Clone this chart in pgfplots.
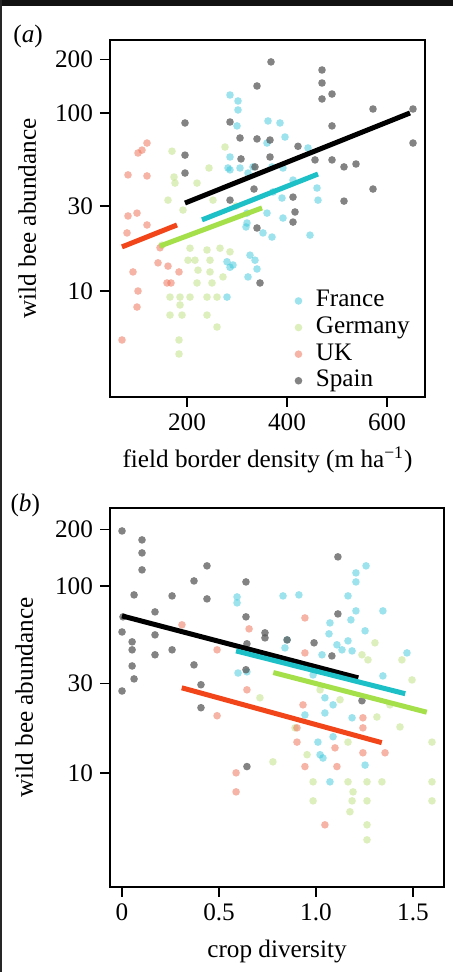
\documentclass[border=0pt]{standalone}
\usepackage{pgfplots}
\pgfplotsset{compat=1.18}
\usepackage{fontspec}
\setmainfont{Liberation Serif}

\definecolor{spainpt}{HTML}{5A5A5A}
\definecolor{francept}{HTML}{3CC8DC}
\definecolor{germanypt}{HTML}{B4DC6E}
\definecolor{ukpt}{HTML}{F0785F}
\definecolor{francefit}{HTML}{1EC0C8}
\definecolor{germanyfit}{HTML}{A5E04B}
\definecolor{ukfit}{HTML}{F2461A}

\newcommand{\lab}{\fontsize{12.6}{15}\selectfont}

\pgfplotsset{
  panel/.style={
    scale only axis,
    clip mode=individual,
    axis line style={line width=1pt},
    tick style={line width=0.7pt, black},
    tick align=outside,
    tick pos=left,
    major tick length=5pt,
    yminorticks=false,
    /pgf/number format/assume math mode=true,
    tick label style={font=\lab},
    label style={font=\lab},
    ytick={10,30,100,200},
    yticklabels={10,30,100,200},
  },
  pts/.style 2 args={only marks, mark=*, mark size=1.9pt, color=#1,
    mark options={fill=#1, fill opacity=#2, draw opacity=0}},
  regline/.style={forget plot, line width=2.5pt, color=#1},
}

% France, Germany, UK, Spain -- field border density (m/ha) vs abundance
\pgfplotstableread{
x y
286 126.2
302 116.8
302 104
300 84.6
362 90.2
386 87.9
396 73.3
360 67.8
286 56.6
286 47.9
306 49.1
322 46
332 49.8
370 49.8
392 49.1
412 42
372 36
390 33.3
460 37.9
462 32.4
320 27.4
360 27.4
392 25.7
352 21.2
370 20.1
446 20.6
320 24.1
442 63.6
326 15.9
280 14.6
286 13.6
340 13.3
322 12
280 9.25
318 22.9
336 14.9
292 14
282 49.1
}\franceA
\pgfplotstableread{
x y
170 61
174 43.7
176 40.4
220 40.4
244 49.1
276 64.4
192 28.5
150 18.1
206 17.4
240 17
202 14.9
216 14.9
246 14.9
222 13.1
246 12.8
272 12
220 11.1
250 11.1
166 9.25
186 9.25
206 9.25
240 9.25
260 9.25
186 8.35
166 7.33
190 7.33
240 7.33
260 6.28
184 5.31
184 4.43
266 17.4
286 16.6
252 32.4
298 30
162 32.4
}\germanyA
\pgfplotstableread{
x y
120 67.8
102 59.6
110 61.9
82 44.9
120 44.3
82 26.4
100 27.4
80 21.2
120 23.5
146 17.5
142 14.4
162 13.8
184 12.8
92 12.8
160 11.1
168 11.1
102 10
100 8.13
70 5.31
}\ukA
\pgfplotstableread{
x y
368 193.6
340 141.8
196 87.9
286 89
306 72.4
340 71.5
196 58
308 55.2
196 46
336 49.8
334 37.4
286 32.4
366 70.5
366 56.6
422 65
456 54.5
470 174.4
470 147.4
490 127.8
470 119.9
490 84.6
490 54.5
514 49.8
538 51.7
572 105.3
652 105.3
652 67.8
572 37.4
514 32
412 33.7
416 27.8
412 24.4
340 22.6
346 11.1
}\spainA

% crop diversity vs abundance
\pgfplotstableread{
x y
0.593 87.3
0.593 81.1
0.830 88.4
0.912 89.5
1.206 117.4
1.258 128
1.206 105
1.165 88.4
1.206 73.5
1.180 65.8
1.072 63.4
1.067 55.4
1.253 57.5
1.345 73.5
1.165 50.8
1.108 48.4
1.134 45.5
1.186 44.9
0.851 51.4
0.598 34.2
0.644 34.7
1.469 43.8
1.345 33
0.985 33.4
1.031 42.8
1.046 25.2
1.088 23.1
1.046 20.9
0.943 20.4
1.186 19.7
1.088 15.6
1.010 14.6
1.021 12.5
1.036 12.0
1.072 8.95
1.253 11.0
0.840 46.6
}\franceB
\pgfplotstableread{
x y
0.778 11.45
0.985 8.95
1.165 8.95
1.263 8.95
1.340 8.95
1.598 8.95
0.985 7.08
1.186 7.08
1.263 7.08
1.598 7.08
1.175 6.19
1.263 5.27
1.263 4.38
1.598 14.6
1.433 17.6
1.314 19.9
0.954 12.5
1.304 49.6
1.237 42.8
1.268 40.2
1.443 40.2
1.165 14.6
0.892 17.4
1.191 7.91
1.021 27.8
1.124 24.6
1.381 23.1
0.711 25.2
1.495 31.4
}\germanyB
\pgfplotstableread{
x y
0.309 61.9
0.490 45.5
0.655 58.9
0.943 67.4
0.943 43.8
0.644 27.8
0.490 20.2
0.588 10
0.588 7.91
0.933 23.1
0.902 17.4
1.242 19.7
1.242 17.4
0.902 14.6
1.098 13.6
1.242 12.8
1.356 12.8
0.943 10.8
1.108 10.8
1.046 5.27
}\ukB
\pgfplotstableread{
x y
0 196.8
0.103 176.2
0.103 150.1
0.103 121.8
0.438 128
0.371 106.3
0.639 105
0.062 89.5
0.258 88.4
0.438 85.2
0.170 72.6
0.005 68.3
0.639 68.3
0 56.7
0.170 54.7
0.052 50.2
0.052 45.5
0.258 45.5
0.170 42.8
0.737 56.1
0.737 52.7
0.052 37.3
0.371 37.8
0.062 31.8
0 27.4
0.407 22.3
0.644 49
0.639 35.6
0.851 51.4
0.990 49.6
1.082 42.2
1.113 143
1.113 70.8
1.237 24.3
0.644 10.8
0.407 29.6
}\spainB

\begin{document}
\begin{tikzpicture}
\useasboundingbox (0,0) rectangle (226.5pt,-486pt);
\fill[white] (0,0) rectangle (226.5pt,-486pt);
\fill[black!93] (0,0) rectangle (226.5pt,-3pt);
\fill[black!85] (0,0) rectangle (1pt,-486pt);

% (a) field border density
\begin{axis}[panel, ymode=log,
  at={(55pt,-198.5pt)}, anchor=south west,
  width=157.5pt, height=178.5pt,
  xmin=46, xmax=676, ymin=2.54, ymax=257,
  xtick={200,400,600},
  xlabel={field border density (m ha\textsuperscript{−1})},
  ylabel={wild bee abundance},
  xlabel style={at={([yshift=-35pt]axis description cs:0.5,0)}, anchor=base},
  ylabel style={at={([xshift=-37pt]axis description cs:0,0.5)}, anchor=base},
  legend cell align=left,
  legend image code/.code={\draw[mark repeat=2,mark phase=2,#1] plot coordinates {(0cm,0cm) (0.15cm,0cm) (0.3cm,0cm)};},
  legend style={draw=none, fill=none, font=\lab, inner sep=0pt,
    at={(axis description cs:0.585,0.306)}, anchor=north west,
    nodes={inner sep=0.8pt, text height=8.6pt, text depth=2.6pt},
    /tikz/every odd column/.append style={column sep=6pt},
    row sep=0.5pt},
]
\addplot[pts={francept}{0.5}] table {\franceA};
\addlegendentry{France}
\addplot[pts={germanypt}{0.45}] table {\germanyA};
\addlegendentry{Germany}
\addplot[pts={ukpt}{0.55}] table {\ukA};
\addlegendentry{UK}
\addplot[pts={spainpt}{0.75}] table {\spainA};
\addlegendentry{Spain}

\addplot[regline=black] coordinates {(196,31.2) (646,100)};
\addplot[regline=francefit] coordinates {(230,25.1) (462,45.4)};
\addplot[regline=germanyfit] coordinates {(146,17.9) (350,29.3)};
\addplot[regline=ukfit] coordinates {(70,17.7) (180,23.5)};

\node[anchor=base west, font=\lab, inner sep=0pt] at (axis description cs:-0.308,0.994) {(\textit{a})};
\end{axis}

% (b) crop diversity
\begin{axis}[panel, ymode=log,
  at={(55pt,-443.5pt)}, anchor=south west,
  width=167pt, height=189.5pt,
  xmin=-0.062, xmax=1.66, ymin=2.45, ymax=261,
  xtick={0,0.5,1,1.5}, xticklabels={0,0.5,1.0,1.5},
  xlabel={crop diversity},
  ylabel={wild bee abundance},
  xlabel style={at={([yshift=-35pt]axis description cs:0.5,0)}, anchor=base},
  ylabel style={at={([xshift=-38.5pt]axis description cs:0,0.5)}, anchor=base},
]
\addplot[pts={francept}{0.5}] table {\franceB};
\addplot[pts={germanypt}{0.45}] table {\germanyB};
\addplot[pts={ukpt}{0.55}] table {\ukB};
\addplot[pts={spainpt}{0.75}] table {\spainB};

\addplot[regline=black] coordinates {(0,69.1) (1.218,32.2)};
\addplot[regline=francefit] coordinates {(0.588,44.9) (1.46,26.5)};
\addplot[regline=germanyfit] coordinates {(0.78,34.4) (1.571,21.1)};
\addplot[regline=ukfit] coordinates {(0.308,28.5) (1.339,14.5)};

\node[anchor=base west, font=\lab, inner sep=0pt] at (axis description cs:-0.299,0.992) {(\textit{b})};
\end{axis}
\end{tikzpicture}
\end{document}
